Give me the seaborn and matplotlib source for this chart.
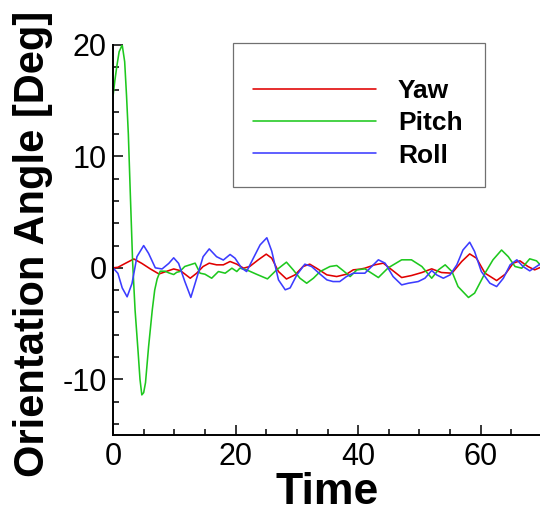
import matplotlib
matplotlib.use("Agg")
import matplotlib.pyplot as plt
from matplotlib.patches import Rectangle
import seaborn as sns
import pandas as pd
from matplotlib.ticker import MultipleLocator

# Orientation angle histories (time, degrees)
yaw_t = [0, 0.8, 2.0, 3.4, 4.7, 6.1, 7.5, 8.8, 9.9, 11.0, 12.6, 13.65, 14.7, 15.7,
         16.9, 18.0, 19.1, 20.2, 21.3, 22.3, 23.7, 25.0, 25.9, 27.0, 28.3, 29.7,
         31.0, 32.1, 33.2, 34.9, 36.5, 38.1, 39.2, 40.3, 41.1, 42.7, 44.1, 45.5,
         47.1, 48.7, 50.4, 52.0, 53.6, 55.3, 56.9, 58.2, 59.3, 60.7, 62.6, 64.0,
         65.3, 66.4, 67.7, 68.8, 70.0]
yaw_v = [0, 0.05, 0.4, 0.8, 0.4, -0.1, -0.55, -0.3, -0.1, -0.25, -0.93, -0.48,
         0.12, 0.42, 0.27, 0.27, 0.57, 0.33, -0.03, 0.12, 0.72, 1.23, 0.87, -0.33,
         -1.0, -0.63, 0.12, 0.33, -0.03, -0.63, -0.78, -0.57, -0.18, -0.12, -0.03,
         0.27, 0.42, -0.18, -0.87, -0.69, -0.42, -0.09, -0.42, -0.48, 0.57, 1.25,
         0.87, -0.48, -1.14, -0.57, 0.42, 0.63, 0.12, -0.18, 0.1]

pitch_t = [0, 0.3, 0.65, 1.0, 1.5, 1.9, 2.2, 2.5, 2.8, 3.2, 3.6, 4.1, 4.4, 4.7,
           5.0, 5.3, 5.8, 6.4, 6.8, 7.2, 7.7, 8.5, 9.1, 9.9, 10.4, 10.9, 11.7,
           13.4, 14.2, 15.0, 16.1, 17.2, 18.3, 19.4, 20.2, 20.7, 21.8, 23.4, 25.2,
           26.7, 28.3, 29.4, 30.5, 31.6, 32.7, 33.8, 35.4, 36.5, 37.6, 38.7, 39.8,
           41.1, 42.2, 43.3, 44.9, 47.1, 48.7, 50.4, 52.0, 53.1, 54.2, 55.3, 56.3,
           58.0, 59.0, 60.7, 62.0, 63.4, 64.5, 65.6, 66.7, 68.0, 69.1, 70.0]
pitch_v = [15.4, 16.8, 18.2, 19.4, 20.0, 18.5, 15.5, 12.0, 7.0, 0.5, -3.8, -7.6,
           -10.0, -11.4, -11.2, -10.3, -7.1, -3.8, -2.0, -1.0, -0.3, -0.3, -0.45,
           -0.6, -0.4, -0.33, 0.12, 0.42, -0.48, -0.57, -0.93, -0.33, -0.48, -0.03,
           -0.33, -0.03, -0.18, -0.57, -0.99, -0.18, 0.51, -0.18, -0.93, -1.38,
           -0.93, -0.33, 0.12, 0.21, -0.27, -0.78, -0.18, -0.09, -0.48, -0.87, 0.0,
           0.72, 0.72, 0.12, -0.93, -0.18, 0.27, -0.33, -1.68, -2.66, -2.27, -0.48,
           0.72, 1.6, 1.0, 0.12, -0.03, 0.81, 0.63, 0.1]

roll_t = [0, 0.8, 1.5, 2.3, 3.1, 3.9, 5.0, 5.8, 6.9, 8.0, 9.1, 9.9, 10.7, 11.7,
          12.7, 13.65, 14.7, 15.7, 16.9, 18.0, 19.1, 19.9, 21.0, 21.8, 22.9, 24.0,
          25.1, 25.9, 27.0, 28.1, 28.9, 30.0, 31.3, 32.4, 33.8, 34.9, 35.9, 37.0,
          38.1, 39.2, 41.1, 42.2, 43.3, 44.4, 45.7, 47.1, 48.2, 49.8, 50.9, 52.0,
          52.8, 53.9, 55.0, 56.1, 57.1, 58.2, 59.0, 60.1, 61.5, 62.6, 63.7, 64.8,
          65.9, 66.9, 68.0, 69.1, 70.0]
roll_v = [0, -0.5, -1.8, -2.6, -1.4, 1.0, 2.0, 1.3, 0.0, -0.1, 0.4, 0.9, 0.4, -1.2,
          -2.65, -0.93, 1.0, 1.7, 1.0, 0.7, 1.2, 0.87, -0.03, -0.33, 0.87, 2.06,
          2.7, 1.5, -1.08, -1.97, -1.8, -0.63, 0.33, 0.12, -0.57, -1.08, -1.23,
          -1.23, -0.78, -0.48, -0.48, 0.12, 0.72, 0.42, -0.78, -1.53, -1.38, -1.23,
          -0.93, -0.24, -0.63, -0.93, -0.63, 0.27, 1.6, 2.3, 1.47, -0.33, -1.38,
          -1.68, -0.93, 0.27, 0.72, 0.12, -0.27, 0.12, 0.45]

series_names = ["Yaw", "Pitch", "Roll"]
series_colors = ["#e00000", "#1ec81e", "#3c3cff"]

df = pd.concat([
    pd.DataFrame({"Time": yaw_t, "Angle": yaw_v, "Series": "Yaw"}),
    pd.DataFrame({"Time": pitch_t, "Angle": pitch_v, "Series": "Pitch"}),
    pd.DataFrame({"Time": roll_t, "Angle": roll_v, "Series": "Roll"}),
], ignore_index=True)

sns.set_theme(style="ticks")
plt.rcParams["font.family"] = ["Liberation Sans", "DejaVu Sans"]
plt.rcParams["axes.unicode_minus"] = False
plt.rcParams["text.color"] = "black"
plt.rcParams["axes.labelcolor"] = "black"
plt.rcParams["xtick.color"] = "black"
plt.rcParams["ytick.color"] = "black"

fig = plt.figure(figsize=(5.4, 5.14), dpi=100)
ax = fig.add_axes([0.2093, 0.1537, 0.7944, 0.7588])

sns.lineplot(data=df, x="Time", y="Angle", hue="Series", hue_order=series_names,
             palette=series_colors, estimator=None, sort=False, linewidth=1.15,
             ax=ax)

ax.set_xlim(0, 70)
ax.set_ylim(-15, 20)
ax.xaxis.set_major_locator(MultipleLocator(20))
ax.xaxis.set_minor_locator(MultipleLocator(5))
ax.yaxis.set_major_locator(MultipleLocator(10))
ax.yaxis.set_minor_locator(MultipleLocator(2))

for side in ["top", "right"]:
    ax.spines[side].set_visible(False)
for side in ["left", "bottom"]:
    ax.spines[side].set_linewidth(1.4)
    ax.spines[side].set_color("black")

ax.tick_params(which="major", direction="in", length=7, width=1.1,
               labelsize=22, colors="black")
ax.tick_params(axis="x", which="major", pad=4.7)
ax.tick_params(axis="y", which="major", pad=4.5)
ax.tick_params(which="minor", direction="in", length=4, width=1.1, colors="black")

ax.set_xlabel("Time", fontsize=32, fontweight="bold", labelpad=0)
ax.set_ylabel("Orientation Angle [Deg]", fontsize=30, fontweight="bold")
ax.yaxis.set_label_coords(-0.14, 0.49)

# legend box outline
frame = Rectangle((0.4315, 0.6362), 0.4667, 0.2802, transform=fig.transFigure,
                  fill=False, edgecolor="#707070", linewidth=0.9)
fig.add_artist(frame)

leg = ax.legend(loc="upper left", bbox_to_anchor=(0.4685, 0.8458),
                bbox_transform=fig.transFigure, frameon=False,
                handlelength=4.66, handletextpad=0.83, borderpad=0,
                labelspacing=0.31, borderaxespad=0,
                prop={"weight": "bold", "size": 19})
for line in leg.get_lines():
    line.set_linewidth(1.15)

fig.savefig("out.png", dpi=100)
